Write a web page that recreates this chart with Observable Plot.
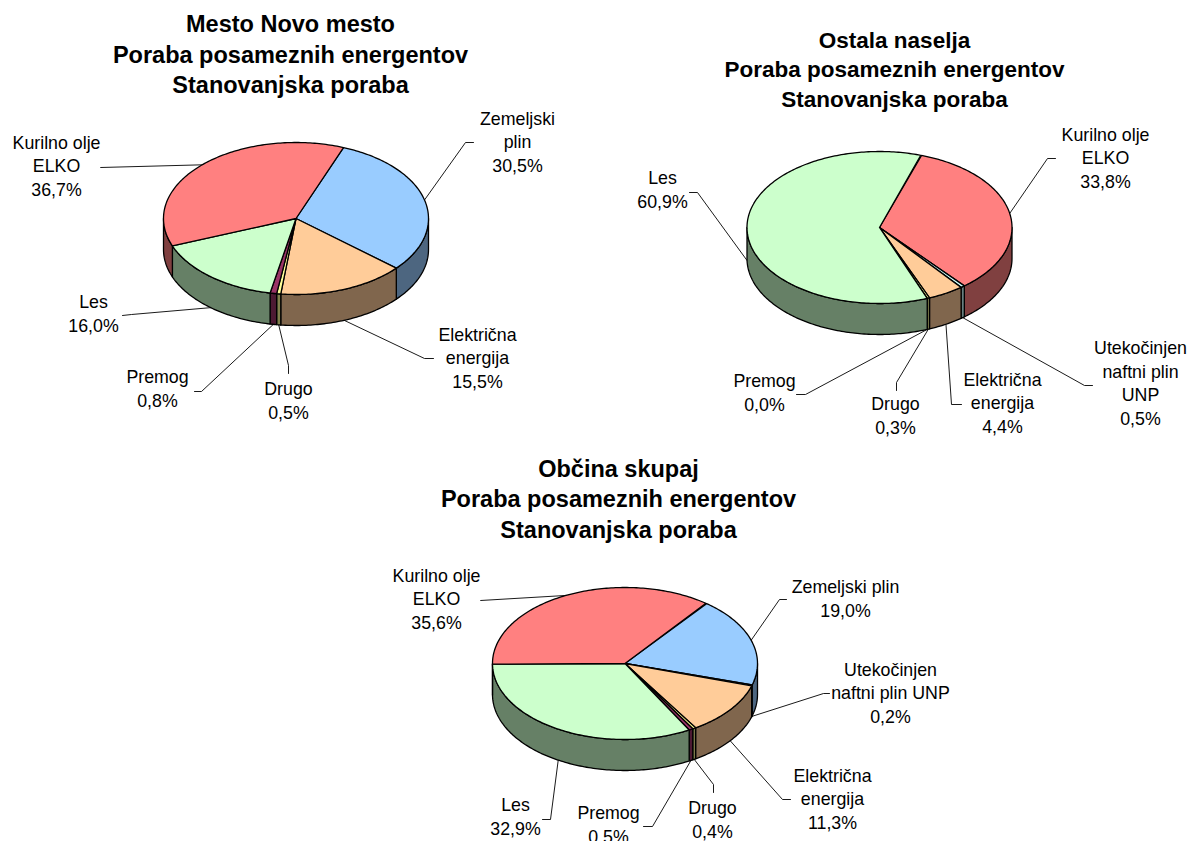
<!DOCTYPE html>
<html lang="sl">
<head>
<meta charset="utf-8">
<title>Poraba posameznih energentov</title>
<script src="https://cdn.jsdelivr.net/npm/d3@7"></script>
<script src="https://cdn.jsdelivr.net/npm/@observablehq/plot@0.6"></script>
<style>
  html, body { margin: 0; padding: 0; background: #fff; overflow: hidden; }
  svg { display: block; }
</style>
</head>
<body>
<div id="chart"></div>
<script>
// Fuel shares in percent, clockwise from each pie's first slice.
const fuels1 = ["plin", "elektrika", "drugo", "premog", "les", "olje"];
const names1 = ["Zemeljski\nplin", "Električna\nenergija", "Drugo", "Premog", "Les", "Kurilno olje\nELKO"];
const values1 = [30.5, 15.5, 0.5, 0.8, 16.0, 36.7];

const fuels2 = ["olje", "unp", "elektrika", "drugo", "premog", "les"];
const names2 = ["Kurilno olje\nELKO", "Utekočinjen\nnaftni plin\nUNP", "Električna\nenergija", "Drugo", "Premog", "Les"];
const values2 = [33.8, 0.5, 4.4, 0.3, 0.0, 60.9];

const fuels3 = ["plin", "unp", "elektrika", "drugo", "premog", "les", "olje"];
const names3 = ["Zemeljski plin", "Utekočinjen\nnaftni plin UNP", "Električna\nenergija", "Drugo", "Premog", "Les", "Kurilno olje\nELKO"];
const values3 = [19.0, 0.2, 11.3, 0.4, 0.5, 32.9, 35.6];

const titles = [
  "Mesto Novo mesto\nPoraba posameznih energentov\nStanovanjska poraba",
  "Ostala naselja\nPoraba posameznih energentov\nStanovanjska poraba",
  "Občina skupaj\nPoraba posameznih energentov\nStanovanjska poraba"
];

// Slice colours by fuel.
const fuelColors = new Map([
  ["plin", "#99ccff"], ["elektrika", "#ffcc99"], ["drugo", "#ffff99"], ["premog", "#993366"],
  ["les", "#ccffcc"], ["olje", "#ff8080"], ["unp", "#ccffff"]
]);

// Page layout: pie placement, title placement, label anchors and leader elbows.
const W = 1192, H = 841, RX = 132.5, RY = 76, DEPTH = 31;
const pieLayouts = [
  {cx: 295.5, cy: 218, start: 21, titleX: 290, titleY: 52.5, titleSize: 23.5,
   labelX: [517, 477, 288, 157, 93, 56], labelY: [140, 356, 399, 387, 312, 164],
   elbows: [[[465, 142], [473, 142]], [[424, 358], [433, 358]], [[288, 365], [288, 373]],
            [[201, 391], [194, 391]], [[131, 314], [122, 315]], [[100, 167], [100, 167]]]},
  {cx: 879, cy: 227, start: 18.5, titleX: 894, titleY: 67.5, titleSize: 22.5,
   labelX: [1105, 1140, 1002, 895, 764, 662], labelY: [156, 381.5, 401, 414, 391, 188],
   elbows: [[[1047, 158], [1055, 158]], [[1084, 385], [1092, 385]], [[951, 404], [961, 404]],
            [[896, 382], [896, 390]], [[805, 394], [796, 394]], [[697, 192], [689, 192]]]},
  {cx: 624.5, cy: 663, start: 38, titleX: 618, titleY: 497, titleSize: 23.5,
   labelX: [845, 890, 832, 712, 608, 515, 436], labelY: [597, 691, 797, 818, 823, 815, 597],
   elbows: [[[779, 599], [786, 599]], [[823, 693], [829, 693]], [[782, 799], [790, 799]],
            [[713, 784], [713, 792]], [[652, 826], [643, 826]], [[550, 819], [542, 819]], [[480, 600], [480, 600]]]}
];
const pieData = [
  {fuels: fuels1, names: names1, values: values1},
  {fuels: fuels2, names: names2, values: values2},
  {fuels: fuels3, names: names3, values: values3}
];

// Angles run clockwise from twelve o'clock, in degrees, on a flattened ellipse.
const rad = (a) => (a * Math.PI) / 180;
const rimX = (p, a) => p.cx + RX * Math.sin(rad(a));
const rimY = (p, a) => p.cy - RY * Math.cos(rad(a));

function arcAngles(a0, a1) {
  const n = Math.max(1, Math.ceil(Math.abs(a1 - a0)));
  return d3.range(n + 1).map((i) => a0 + ((a1 - a0) * i) / n);
}

const tops = [], walls = [], leaders = [], labels = [];
pieData.forEach((d, pi) => {
  const p = pieLayouts[pi];
  let angle = p.start;
  d.values.forEach((v, i) => {
    const a0 = angle, a1 = angle + (v / 100) * 360;
    angle = a1;
    const fill = fuelColors.get(d.fuels[i]);
    const base = d3.rgb(fill);
    const wallFill = d3.rgb(base.r / 2, base.g / 2, base.b / 2).formatHex();

    // Upper face: centre, rim arc, back to centre.
    const topKey = `t${pi}-${i}`;
    const pts = [[p.cx, p.cy], ...arcAngles(a0, a1).map((a) => [rimX(p, a), rimY(p, a)]), [p.cx, p.cy]];
    pts.forEach(([x, y]) => tops.push({key: topKey, x, y, fill}));

    // Outer wall: only the part of the rim that faces the viewer.
    [[90, 270], [450, 630]].forEach(([lo, hi], w) => {
      const b0 = Math.max(a0, lo), b1 = Math.min(a1, hi);
      if (b1 < b0) return;
      const key = `w${pi}-${i}-${w}`;
      const rim = arcAngles(b0, b1);
      rim.forEach((a) => walls.push({key, x: rimX(p, a), y: rimY(p, a), fill: wallFill}));
      rim.slice().reverse().forEach((a) => walls.push({key, x: rimX(p, a), y: rimY(p, a) + DEPTH, fill: wallFill}));
      walls.push({key, x: rimX(p, b0), y: rimY(p, b0), fill: wallFill});
    });

    // Leader: from the rim at the slice's mid angle through its elbow.
    const mid = (a0 + a1) / 2;
    const front = Math.cos(rad(mid)) < 0;
    const key = `l${pi}-${i}`;
    [[rimX(p, mid), rimY(p, mid) + (front ? DEPTH : 0)], ...p.elbows[i]]
      .forEach(([x, y]) => leaders.push({key, x, y}));

    labels.push({
      x: p.labelX[i], y: p.labelY[i],
      text: `${d.names[i]}\n${v.toFixed(1).replace(".", ",")}%`
    });
  });
});

const titleRows = titles.map((text, i) => ({
  text, x: pieLayouts[i].titleX, y: pieLayouts[i].titleY, size: pieLayouts[i].titleSize
}));

const chart = Plot.plot({
  width: W,
  height: H,
  margin: 0,
  style: {background: "#fff", fontFamily: "'Liberation Sans', Arial, sans-serif"},
  x: {domain: [0, W], range: [0, W], axis: null},
  y: {domain: [0, H], range: [0, H], axis: null},
  color: {type: "identity"},
  marks: [
    Plot.line(leaders, {x: "x", y: "y", z: "key", stroke: "#000", strokeWidth: 0.9}),
    Plot.line(walls, {x: "x", y: "y", z: "key", fill: "fill", stroke: "#000", strokeWidth: 1.3, strokeLinejoin: "round"}),
    Plot.line(tops, {x: "x", y: "y", z: "key", fill: "fill", stroke: "#000", strokeWidth: 1.3, strokeLinejoin: "round"}),
    Plot.text(labels, {x: "x", y: "y", text: "text", fontSize: 17.8, lineHeight: 1.32, fill: "#000"}),
    ...titleRows.map((t) =>
      Plot.text([t], {x: "x", y: "y", text: "text", fontSize: t.size, fontWeight: "bold", lineHeight: 1.3, fill: "#000"})
    )
  ]
});
document.getElementById("chart").append(chart);
</script>
</body>
</html>
